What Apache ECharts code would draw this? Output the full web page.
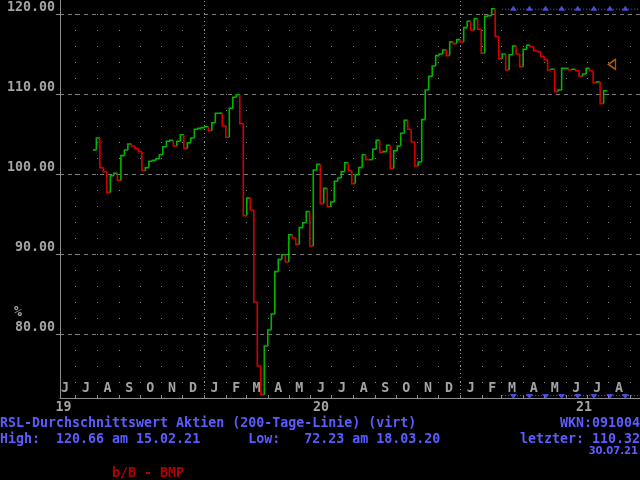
<!DOCTYPE html>
<html>
<head>
<meta charset="utf-8">
<script src="https://cdn.jsdelivr.net/npm/echarts@6/dist/echarts.min.js"></script>
<style>
  html, body { margin: 0; padding: 0; background: #000; }
  #chart { width: 640px; height: 480px; }
</style>
</head>
<body>
<div id="chart"></div>
<script>
// RSL-Durchschnittswert, one close every 5 calendar days from 26.07.2019 to 30.07.2021
var startDay = [2019, 6, 26];
var stepDays = 5;
var rslClose = [
  103.0, 104.5, 100.8, 100.3, 97.7, 99.8, 100.1, 99.2, 102.3, 103.0,
  103.75, 103.5, 103.2, 102.8, 100.4, 100.8, 101.6, 101.7, 101.9, 102.4,
  103.4, 104.1, 104.2, 103.5, 104.1, 104.9, 103.2, 103.9, 104.5, 105.6,
  105.7, 105.8, 105.9, 105.4, 106.4, 107.6, 107.6, 106.0, 104.6, 108.2,
  109.6, 109.9, 106.3, 94.8, 97.0, 95.5, 84.0, 76.0, 72.4, 78.5,
  80.5, 82.5, 87.8, 89.3, 89.9, 89.0, 92.4, 92.0, 91.2, 93.3,
  93.9, 95.3, 91.0, 100.5, 101.2, 96.3, 98.2, 95.9, 96.5, 99.1,
  99.5, 100.3, 101.4, 100.4, 98.8, 99.9, 100.8, 102.4, 101.8, 101.8,
  103.1, 104.2, 102.7, 102.8, 103.6, 100.7, 102.9, 103.5, 105.1, 106.7,
  105.6, 104.0, 101.0, 101.5, 106.8, 110.5, 112.2, 113.5, 114.8, 115.0,
  115.5, 114.8, 116.5, 116.3, 116.8, 116.5, 118.3, 119.1, 118.0, 119.4,
  118.1, 115.1, 119.7, 119.8, 120.66, 117.2, 114.4, 115.0, 113.0, 114.9,
  116.0, 115.0, 113.4, 115.6, 116.1, 115.9, 115.4, 115.3, 114.7, 114.3,
  113.0, 113.1, 110.3, 110.5, 113.2, 113.2, 113.0, 113.1, 112.9, 112.2,
  112.5, 113.2, 112.9, 111.4, 111.5, 108.8, 110.4, 110.32
];

// axis
var axisRange = ['2019-06-09', '2021-09-15'];
var yTicks = [80, 90, 100, 110, 120];
var monthLetters = ['J', 'F', 'M', 'A', 'M', 'J', 'J', 'A', 'S', 'O', 'N', 'D'];
var yearLabelDates = ['2019-06-14', '2020-06-16', '2021-06-27'];
var yearBreaks = ['2020-01-01', '2021-01-01'];

// signal markers (blaue Dreiecke) und Zielmarke
var signalSpan = ['2021-03-02', '2021-09-15'];
var signalDates = ['2021-03-18', '2021-04-10', '2021-05-03', '2021-05-26',
  '2021-06-18', '2021-07-11', '2021-08-03', '2021-08-25'];
var signalTop = 120.6;
var signalBottom = 72.3;
var targetMark = ['2021-08-06', 113.7];

var upColor = '#00b400';
var downColor = '#d40000';
var grey = '#a4a4a4';
var blue = '#5c5cff';
var mono = '"DejaVu Sans Mono", "Liberation Mono", monospace';

function dayAt(i) {
  return new Date(startDay[0], startDay[1], startDay[2] + i * stepDays).getTime();
}
function parseDay(s) {
  var p = s.split('-');
  return new Date(+p[0], +p[1] - 1, +p[2]).getTime();
}

var stepData = rslClose.map(function (v, i) {
  var open = i === 0 ? v : rslClose[i - 1];
  var next = i < rslClose.length - 1 ? dayAt(i + 1) : dayAt(i);
  return [dayAt(i), open, v, next];
});

// Monatsanfaenge und Monatsmitten fuer Ticks / Beschriftung
var monthStarts = [];
var monthMids = [];
(function () {
  var a = parseDay(axisRange[0]), b = parseDay(axisRange[1]);
  var d = new Date(a);
  var y = d.getFullYear(), m = d.getMonth();
  while (true) {
    var s = new Date(y, m, 1).getTime();
    if (s > b) break;
    if (s > a) monthStarts.push(s);
    monthMids.push(new Date(y, m, 16).getTime());
    m++;
    if (m > 11) { m = 0; y++; }
  }
})();

var chart = echarts.init(document.getElementById('chart'));
chart.setOption({
  backgroundColor: '#000',
  animation: false,
  grid: { left: 60, right: 0, top: 0, bottom: 82, containLabel: false },
  xAxis: [
    {
      type: 'value',
      min: parseDay(axisRange[0]),
      max: parseDay(axisRange[1]),
      axisLine: { show: true, lineStyle: { color: '#8c8c8c', width: 1 } },
      axisTick: { show: true, inside: true, length: 3, customValues: monthStarts,
        lineStyle: { color: '#8c8c8c' } },
      axisLabel: {
        show: true, inside: true, margin: 3, customValues: monthMids,
        color: grey, fontFamily: mono, fontSize: 13.3, fontWeight: 'bold',
        formatter: function (v) { return monthLetters[new Date(v).getMonth()]; }
      },
      splitLine: { show: true, lineStyle: { color: '#8a8a8a', width: 1, type: [1, 15], dashOffset: 2 } }
    },
    {
      type: 'value',
      position: 'bottom',
      min: parseDay(axisRange[0]),
      max: parseDay(axisRange[1]),
      axisLine: { show: false },
      axisTick: { show: false },
      splitLine: { show: false },
      axisLabel: {
        show: true, margin: 3, customValues: yearLabelDates.map(parseDay),
        color: grey, fontFamily: mono, fontSize: 13.3, fontWeight: 'bold',
        formatter: function (v) { return String(new Date(v).getFullYear()).slice(2); }
      }
    }
  ],
  yAxis: {
    type: 'value',
    min: 72,
    max: 121.75,
    axisLine: { show: true, lineStyle: { color: '#8c8c8c', width: 1 } },
    axisTick: { show: true, length: 4, customValues: yTicks, lineStyle: { color: '#8c8c8c' } },
    axisLabel: {
      customValues: yTicks, margin: 5, color: grey, fontFamily: mono, fontSize: 13.3,
      fontWeight: 'bold', verticalAlign: 'bottom',
      formatter: function (v) { return v.toFixed(2); }
    },
    splitLine: { show: true, lineStyle: { color: '#7c7c7c', width: 1, type: [4, 4] } }
  },
  series: [
    {
      name: 'RSL',
      type: 'custom',
      clip: true,
      dimensions: ['date', 'open', 'close', 'next'],
      encode: { x: 0, y: [1, 2] },
      data: stepData,
      renderItem: function (params, api) {
        var o = api.value(1), c = api.value(2);
        var a = api.coord([api.value(0), o]);
        var b = api.coord([api.value(0), c]);
        var e = api.coord([api.value(3), c]);
        return {
          type: 'polyline',
          shape: { points: [a, b, e] },
          style: { stroke: c >= o ? upColor : downColor, fill: null, lineWidth: 1.6 }
        };
      },
      z: 5
    },
    {
      name: 'signalTopLine',
      type: 'line',
      symbol: 'none',
      data: signalSpan.map(function (d) { return [parseDay(d), signalTop]; }),
      lineStyle: { color: blue, width: 1, type: [1, 2] },
      markLine: {
        silent: true,
        symbol: 'none',
        label: { show: false },
        lineStyle: { color: '#8c8c8c', width: 1, type: [1, 3] },
        data: yearBreaks.map(function (d) { return { xAxis: parseDay(d) }; })
      }
    },
    {
      name: 'signalBottomLine',
      type: 'line',
      symbol: 'none',
      data: signalSpan.map(function (d) { return [parseDay(d), signalBottom]; }),
      lineStyle: { color: blue, width: 1, type: [1, 2] }
    },
    {
      name: 'signalTop',
      type: 'scatter',
      symbol: 'triangle',
      symbolSize: [7, 5],
      symbolOffset: [0, -1],
      itemStyle: { color: blue },
      data: signalDates.map(function (d) { return [parseDay(d), signalTop]; })
    },
    {
      name: 'signalBottom',
      type: 'scatter',
      symbol: 'triangle',
      symbolRotate: 180,
      symbolSize: [7, 5],
      symbolOffset: [0, 1],
      itemStyle: { color: blue },
      data: signalDates.map(function (d) { return [parseDay(d), signalBottom]; })
    },
    {
      name: 'target',
      type: 'scatter',
      symbol: 'triangle',
      symbolRotate: 90,
      symbolSize: [10, 7],
      itemStyle: { color: 'rgba(0,0,0,0)', borderColor: '#e06a00', borderWidth: 1.5 },
      data: [[parseDay(targetMark[0]), targetMark[1]]]
    }
  ],
  graphic: [
    { type: 'text', left: 14, top: 306, style: { text: '%', fill: grey, font: 'bold 13.3px ' + mono } },
    { type: 'text', left: 0, top: 417, style: { text: 'RSL-Durchschnittswert Aktien (200-Tage-Linie) (virt)', fill: blue, font: 'bold 13.3px ' + mono } },
    { type: 'text', left: 0, top: 433, style: { text: 'High:  120.66 am 15.02.21      Low:   72.23 am 18.03.20', fill: blue, font: 'bold 13.3px ' + mono } },
    { type: 'text', right: 0, top: 417, style: { text: 'WKN:091004', fill: blue, font: 'bold 13.3px ' + mono } },
    { type: 'text', right: 0, top: 433, style: { text: 'letzter: 110.32', fill: blue, font: 'bold 13.3px ' + mono } },
    { type: 'text', right: 2, top: 446, style: { text: '30.07.21', fill: blue, font: 'bold 10px "DejaVu Sans"' } },
    { type: 'text', left: 112, top: 467, style: { text: 'b/B - BMP', fill: '#b00000', font: 'bold 13.3px ' + mono } }
  ]
});
</script>
</body>
</html>
